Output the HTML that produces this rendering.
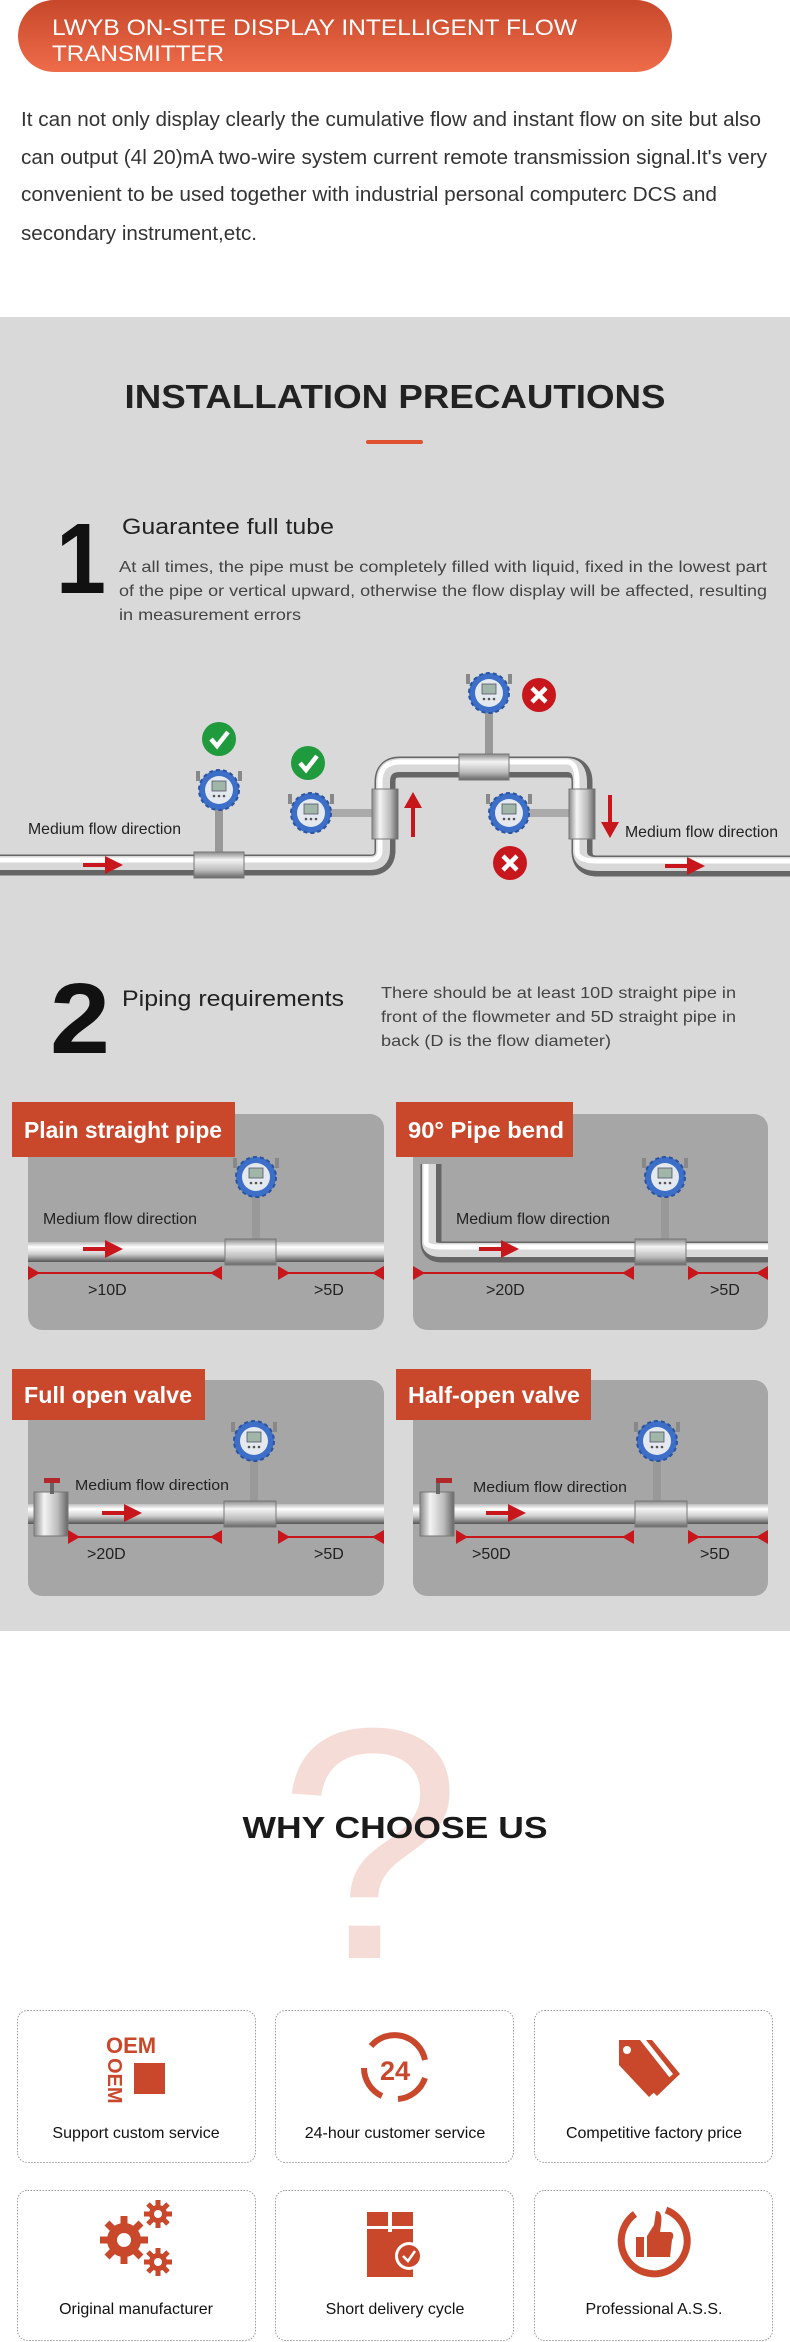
<!DOCTYPE html>
<html><head><meta charset="utf-8"><style>
html,body{margin:0;padding:0;background:#fff}
svg{display:block}
text{font-family:"Liberation Sans",Arial,sans-serif}
</style></head><body>
<svg width="790" height="2342" viewBox="0 0 790 2342" xmlns="http://www.w3.org/2000/svg">
<defs>
<linearGradient id="hdr" x1="0" y1="0" x2="0" y2="1"><stop offset="0" stop-color="#c6472a"/><stop offset="1" stop-color="#ef6c4a"/></linearGradient>
<linearGradient id="ph" x1="0" y1="0" x2="0" y2="1"><stop offset="0" stop-color="#bdbdbd"/><stop offset=".25" stop-color="#ffffff"/><stop offset=".6" stop-color="#d0d0d0"/><stop offset="1" stop-color="#555"/></linearGradient>
<linearGradient id="pv" x1="0" y1="0" x2="1" y2="0"><stop offset="0" stop-color="#bdbdbd"/><stop offset=".25" stop-color="#ffffff"/><stop offset=".6" stop-color="#d0d0d0"/><stop offset="1" stop-color="#555"/></linearGradient>
<linearGradient id="bd" x1="0" y1="0" x2="0" y2="1"><stop offset="0" stop-color="#888"/><stop offset=".3" stop-color="#f4f4f4"/><stop offset=".7" stop-color="#bbb"/><stop offset="1" stop-color="#666"/></linearGradient>
<linearGradient id="bdv" x1="0" y1="0" x2="1" y2="0"><stop offset="0" stop-color="#888"/><stop offset=".3" stop-color="#f4f4f4"/><stop offset=".7" stop-color="#bbb"/><stop offset="1" stop-color="#666"/></linearGradient>
<g id="head">
<rect x="-23" y="-19" width="4" height="10" fill="#888"/><rect x="19" y="-19" width="4" height="10" fill="#888"/>
<circle r="20" fill="#3d6fc8"/><circle r="20" fill="none" stroke="#2a54a0" stroke-width="2" stroke-dasharray="4 3"/>
<circle r="14" fill="#e4e9f0"/><rect x="-7" y="-9" width="14" height="10" fill="#9fb6a8" stroke="#556" stroke-width=".8"/>
<circle cx="-5" cy="6" r="1.3" fill="#555"/><circle cx="0" cy="6" r="1.3" fill="#555"/><circle cx="5" cy="6" r="1.3" fill="#555"/>
</g>
<g id="ok"><circle r="17" fill="#1f9a3c"/><polyline points="-8,0 -2,7 9,-7" fill="none" stroke="#fff" stroke-width="4.5"/></g>
<g id="no"><circle r="17" fill="#c8161d"/><path d="M-7,-7 L7,7 M7,-7 L-7,7" stroke="#fff" stroke-width="4.5"/></g>
<g id="arr"><rect x="0" y="-2" width="26" height="4" fill="#c8161d"/><polygon points="22,-9 40,0 22,9" fill="#c8161d"/></g>
</defs>

<!-- header -->
<rect x="18" y="0" width="654" height="72" rx="36" fill="url(#hdr)"/>
<text x="52" y="35" font-size="22" fill="#fff" textLength="525" lengthAdjust="spacingAndGlyphs">LWYB ON-SITE DISPLAY INTELLIGENT FLOW</text>
<text x="52" y="61" font-size="22" fill="#fff" textLength="172" lengthAdjust="spacingAndGlyphs">TRANSMITTER</text>

<g font-size="20" fill="#333">
<text x="21" y="126" textLength="740" lengthAdjust="spacingAndGlyphs">It can not only display clearly the cumulative flow and instant flow on site but also</text>
<text x="21" y="164" textLength="746" lengthAdjust="spacingAndGlyphs">can output (4l 20)mA two-wire system current remote transmission signal.It's very</text>
<text x="21" y="201" textLength="696" lengthAdjust="spacingAndGlyphs">convenient to be used together with industrial personal computerc DCS and</text>
<text x="21" y="240" textLength="236" lengthAdjust="spacingAndGlyphs">secondary instrument,etc.</text>
</g>

<!-- gray section -->
<rect x="0" y="317" width="790" height="1314" fill="#d9d9d9"/>
<text x="395" y="408" font-size="33" font-weight="bold" fill="#222" text-anchor="middle" textLength="541" lengthAdjust="spacingAndGlyphs">INSTALLATION PRECAUTIONS</text>
<rect x="366" y="440" width="57" height="4" rx="2" fill="#e0512f"/>

<text x="56" y="593" font-size="100" font-weight="bold" fill="#111" textLength="50" lengthAdjust="spacingAndGlyphs">1</text>
<text x="122" y="534" font-size="22" fill="#222" textLength="212" lengthAdjust="spacingAndGlyphs">Guarantee full tube</text>
<g font-size="16" fill="#444">
<text x="119" y="572" textLength="648" lengthAdjust="spacingAndGlyphs">At all times, the pipe must be completely filled with liquid, fixed in the lowest part</text>
<text x="119" y="596" textLength="648" lengthAdjust="spacingAndGlyphs">of the pipe or vertical upward, otherwise the flow display will be affected, resulting</text>
<text x="119" y="620" textLength="182" lengthAdjust="spacingAndGlyphs">in measurement errors</text>
</g>

<!-- pipe diagram 1 -->
<path d="M0 865 H370 Q385 865 385 850 V782 Q385 767 400 767 H567 Q582 767 582 782 V851 Q582 866 597 866 H790" fill="none" stroke="#666" stroke-width="21"/>
<path d="M0 863 H370 Q383 863 383 850 V782 Q383 765 400 765 H567 Q580 765 580 782 V851 Q580 864 597 864 H790" fill="none" stroke="#d8d8d8" stroke-width="14"/>
<path d="M0 860 H370 Q380 860 380 850 V782 Q380 762 400 762 H567 Q577 762 577 782 V851 Q577 861 597 861 H790" fill="none" stroke="#fff" stroke-width="5"/>
<text x="28" y="834" font-size="16" fill="#222" textLength="153" lengthAdjust="spacingAndGlyphs">Medium flow direction</text>
<text x="625" y="837" font-size="16" fill="#222" textLength="153" lengthAdjust="spacingAndGlyphs">Medium flow direction</text>
<use href="#arr" x="83" y="865"/>
<use href="#arr" x="665" y="866"/>
<rect x="411" y="805" width="4" height="32" fill="#c8161d"/><polygon points="404,808 413,792 422,808" fill="#c8161d"/>
<rect x="608" y="795" width="4" height="30" fill="#c8161d"/><polygon points="601,822 610,838 619,822" fill="#c8161d"/>
<!-- meter A -->
<rect x="215" y="808" width="8" height="46" fill="#999"/><rect x="194" y="852" width="50" height="26" fill="url(#bd)" stroke="#777"/>
<use href="#head" x="219" y="790"/>
<!-- meter B -->
<rect x="330" y="809" width="45" height="8" fill="#aaa"/><rect x="372" y="789" width="26" height="50" fill="url(#bdv)" stroke="#777"/>
<use href="#head" x="311" y="813"/>
<!-- meter C -->
<rect x="485" y="712" width="8" height="45" fill="#999"/><rect x="459" y="754" width="50" height="26" fill="url(#bd)" stroke="#777"/>
<use href="#head" x="489" y="693"/>
<!-- meter D -->
<rect x="528" y="809" width="44" height="8" fill="#aaa"/><rect x="569" y="789" width="26" height="50" fill="url(#bdv)" stroke="#777"/>
<use href="#head" x="509" y="813"/>
<use href="#ok" x="219" y="739"/><use href="#ok" x="308" y="763"/>
<use href="#no" x="539" y="695"/><use href="#no" x="510" y="863"/>

<text x="50" y="1053" font-size="100" font-weight="bold" fill="#111" textLength="60" lengthAdjust="spacingAndGlyphs">2</text>
<text x="122" y="1006" font-size="22" fill="#222" textLength="222" lengthAdjust="spacingAndGlyphs">Piping requirements</text>
<g font-size="16" fill="#444">
<text x="381" y="998" textLength="355" lengthAdjust="spacingAndGlyphs">There should be at least 10D straight pipe in</text>
<text x="381" y="1022" textLength="355" lengthAdjust="spacingAndGlyphs">front of the flowmeter and 5D straight pipe in</text>
<text x="381" y="1046" textLength="230" lengthAdjust="spacingAndGlyphs">back (D is the flow diameter)</text>
</g>

<!-- panels -->
<g fill="#a6a6a6">
<rect x="28" y="1114" width="356" height="216" rx="14"/>
<rect x="413" y="1114" width="355" height="216" rx="14"/>
<rect x="28" y="1380" width="356" height="216" rx="14"/>
<rect x="413" y="1380" width="355" height="216" rx="14"/>
</g>
<!-- panel 1 -->
<rect x="28" y="1242" width="356" height="20" fill="url(#ph)"/>
<use href="#arr" x="83" y="1249"/>
<text x="43" y="1224" font-size="16" fill="#222" textLength="154" lengthAdjust="spacingAndGlyphs">Medium flow direction</text>
<rect x="252" y="1195" width="8" height="46" fill="#999"/><rect x="225" y="1239" width="51" height="26" fill="url(#bd)" stroke="#777"/>
<use href="#head" x="256" y="1177"/>
<rect x="30" y="1272" width="192" height="2" fill="#c8161d"/><polygon points="28,1266 40,1273 28,1280" fill="#c8161d"/><polygon points="222,1266 210,1273 222,1280" fill="#c8161d"/>
<rect x="278" y="1272" width="104" height="2" fill="#c8161d"/><polygon points="278,1266 290,1273 278,1280" fill="#c8161d"/><polygon points="384,1266 372,1273 384,1280" fill="#c8161d"/>
<text x="88" y="1295" font-size="16" fill="#222">&gt;10D</text>
<text x="314" y="1295" font-size="16" fill="#222">&gt;5D</text>
<!-- panel 2 -->
<path d="M431 1164 V1242 Q431 1252 441 1252 H768" fill="none" stroke="#666" stroke-width="21"/>
<path d="M429 1164 V1242 Q429 1250 441 1250 H768" fill="none" stroke="#d8d8d8" stroke-width="14"/>
<path d="M426 1164 V1242 Q426 1247 441 1247 H768" fill="none" stroke="#fff" stroke-width="5"/>
<use href="#arr" x="479" y="1249"/>
<text x="456" y="1224" font-size="16" fill="#222" textLength="154" lengthAdjust="spacingAndGlyphs">Medium flow direction</text>
<rect x="661" y="1195" width="8" height="46" fill="#999"/><rect x="635" y="1239" width="51" height="26" fill="url(#bd)" stroke="#777"/>
<use href="#head" x="665" y="1177"/>
<rect x="415" y="1272" width="218" height="2" fill="#c8161d"/><polygon points="413,1266 425,1273 413,1280" fill="#c8161d"/><polygon points="634,1266 622,1273 634,1280" fill="#c8161d"/>
<rect x="688" y="1272" width="78" height="2" fill="#c8161d"/><polygon points="688,1266 700,1273 688,1280" fill="#c8161d"/><polygon points="768,1266 756,1273 768,1280" fill="#c8161d"/>
<text x="486" y="1295" font-size="16" fill="#222">&gt;20D</text>
<text x="710" y="1295" font-size="16" fill="#222">&gt;5D</text>
<!-- panel 3 -->
<rect x="28" y="1504" width="356" height="20" fill="url(#ph)"/>
<rect x="34" y="1492" width="34" height="44" fill="url(#bdv)" stroke="#777"/>
<rect x="50" y="1480" width="4" height="14" fill="#666"/><rect x="44" y="1478" width="16" height="5" fill="#b0282a"/>
<use href="#arr" x="102" y="1513"/>
<text x="75" y="1490" font-size="15" fill="#222" textLength="154" lengthAdjust="spacingAndGlyphs">Medium flow direction</text>
<rect x="250" y="1459" width="8" height="46" fill="#999"/><rect x="224" y="1501" width="52" height="26" fill="url(#bd)" stroke="#777"/>
<use href="#head" x="254" y="1441"/>
<rect x="70" y="1536" width="152" height="2" fill="#c8161d"/><polygon points="68,1530 80,1537 68,1544" fill="#c8161d"/><polygon points="222,1530 210,1537 222,1544" fill="#c8161d"/>
<rect x="278" y="1536" width="104" height="2" fill="#c8161d"/><polygon points="278,1530 290,1537 278,1544" fill="#c8161d"/><polygon points="384,1530 372,1537 384,1544" fill="#c8161d"/>
<text x="87" y="1559" font-size="16" fill="#222">&gt;20D</text>
<text x="314" y="1559" font-size="16" fill="#222">&gt;5D</text>
<!-- panel 4 -->
<rect x="413" y="1504" width="355" height="20" fill="url(#ph)"/>
<rect x="420" y="1492" width="34" height="44" fill="url(#bdv)" stroke="#777"/>
<rect x="436" y="1480" width="4" height="14" fill="#666"/><rect x="436" y="1478" width="16" height="5" fill="#b0282a"/>
<use href="#arr" x="486" y="1513"/>
<text x="473" y="1492" font-size="15" fill="#222" textLength="154" lengthAdjust="spacingAndGlyphs">Medium flow direction</text>
<rect x="653" y="1459" width="8" height="46" fill="#999"/><rect x="635" y="1501" width="52" height="26" fill="url(#bd)" stroke="#777"/>
<use href="#head" x="657" y="1441"/>
<rect x="458" y="1536" width="174" height="2" fill="#c8161d"/><polygon points="456,1530 468,1537 456,1544" fill="#c8161d"/><polygon points="634,1530 622,1537 634,1544" fill="#c8161d"/>
<rect x="688" y="1536" width="78" height="2" fill="#c8161d"/><polygon points="688,1530 700,1537 688,1544" fill="#c8161d"/><polygon points="768,1530 756,1537 768,1544" fill="#c8161d"/>
<text x="472" y="1559" font-size="16" fill="#222">&gt;50D</text>
<text x="700" y="1559" font-size="16" fill="#222">&gt;5D</text>

<!-- labels -->
<g fill="#c9482b">
<rect x="12" y="1102" width="223" height="55"/>
<rect x="396" y="1102" width="177" height="55"/>
<rect x="12" y="1369" width="193" height="51"/>
<rect x="396" y="1369" width="195" height="51"/>
</g>
<g font-size="23" font-weight="bold" fill="#fff">
<text x="24" y="1138" textLength="198" lengthAdjust="spacingAndGlyphs">Plain straight pipe</text>
<text x="408" y="1138" textLength="156" lengthAdjust="spacingAndGlyphs">90° Pipe bend</text>
<text x="24" y="1403" textLength="168" lengthAdjust="spacingAndGlyphs">Full open valve</text>
<text x="408" y="1403" textLength="172" lengthAdjust="spacingAndGlyphs">Half-open valve</text>
</g>

<!-- why choose us -->
<text x="370" y="1958" font-size="330" fill="#f6dcd6" text-anchor="middle">?</text>
<text x="395" y="1838" font-size="31" font-weight="bold" fill="#1a1a1a" text-anchor="middle" textLength="305" lengthAdjust="spacingAndGlyphs">WHY CHOOSE US</text>

<g fill="#fff" stroke="#999" stroke-width="1" stroke-dasharray="1.5 1.5">
<rect x="17.5" y="2010.5" width="238" height="152" rx="10"/>
<rect x="275.5" y="2010.5" width="238" height="152" rx="10"/>
<rect x="534.5" y="2010.5" width="238" height="152" rx="10"/>
<rect x="17.5" y="2190.5" width="238" height="150" rx="10"/>
<rect x="275.5" y="2190.5" width="238" height="150" rx="10"/>
<rect x="534.5" y="2190.5" width="238" height="150" rx="10"/>
</g>
<g font-size="16" fill="#111" text-anchor="middle">
<text x="136" y="2138">Support custom service</text>
<text x="395" y="2138">24-hour customer service</text>
<text x="654" y="2138">Competitive factory price</text>
<text x="136" y="2314">Original manufacturer</text>
<text x="395" y="2314">Short delivery cycle</text>
<text x="654" y="2314">Professional A.S.S.</text>
</g>
<!-- icons -->
<g fill="#c9482b">
<text x="106" y="2053" font-size="22" font-weight="bold">OEM</text>
<text transform="translate(108,2058) rotate(90)" font-size="20" font-weight="bold">OEM</text>
<rect x="134" y="2063" width="31" height="31"/>
</g>
<g fill="none" stroke="#c9482b" stroke-width="6">
<path d="M371 2046 A31 31 0 0 1 425 2060"/><path d="M425 2078 A31 31 0 0 1 398 2099"/><path d="M382 2096 A31 31 0 0 1 364 2068"/>
</g>
<text x="395" y="2080" font-size="27" font-weight="bold" fill="#c9482b" text-anchor="middle">24</text>
<g fill="#c9482b">
<path d="M619 2040 L640 2040 L670 2078 L649 2097 L619 2065 Z"/>
<path d="M646 2040 L652 2040 L680 2074 L657 2096 L653 2092 L673 2074 Z"/>
<circle cx="627" cy="2050" r="4" fill="#fff"/>
</g>
<g fill="#c9482b">
<circle cx="124" cy="2240" r="17"/><circle cx="124" cy="2240" r="7" fill="#fff"/>
<g stroke="#c9482b" stroke-width="7"><path d="M124 2216 V2264 M100 2240 H148 M107 2223 L141 2257 M141 2223 L107 2257"/></g>
<circle cx="124" cy="2240" r="7" fill="#fff"/>
<circle cx="158" cy="2214" r="9"/><circle cx="158" cy="2214" r="4" fill="#fff"/>
<g stroke="#c9482b" stroke-width="5"><path d="M158 2200 V2228 M144 2214 H172 M148 2204 L168 2224 M168 2204 L148 2224"/></g><circle cx="158" cy="2214" r="4" fill="#fff"/>
<circle cx="158" cy="2262" r="9"/>
<g stroke="#c9482b" stroke-width="5"><path d="M158 2248 V2276 M144 2262 H172 M148 2252 L168 2272 M168 2252 L148 2272"/></g><circle cx="158" cy="2262" r="4" fill="#fff"/>
</g>
<g fill="#c9482b">
<rect x="367" y="2212" width="46" height="14"/><rect x="367" y="2229" width="46" height="48"/>
<rect x="388" y="2212" width="4" height="20" fill="#fff"/>
<circle cx="409" cy="2256" r="14" fill="#fff"/><circle cx="409" cy="2256" r="11"/>
<polyline points="403,2256 408,2261 415,2251" fill="none" stroke="#fff" stroke-width="2.5"/>
</g>
<g fill="#c9482b">
<path d="M666 2210 A33 33 0 1 1 635 2214" fill="none" stroke="#c9482b" stroke-width="7"/>
<rect x="636" y="2237" width="8" height="20"/>
<path d="M647 2257 V2236 L654 2225 L656 2211 Q663 2211 661 2225 L660 2232 L671 2232 Q675 2234 672 2240 L670 2257 Z"/>
</g>
</svg>
</body></html>
